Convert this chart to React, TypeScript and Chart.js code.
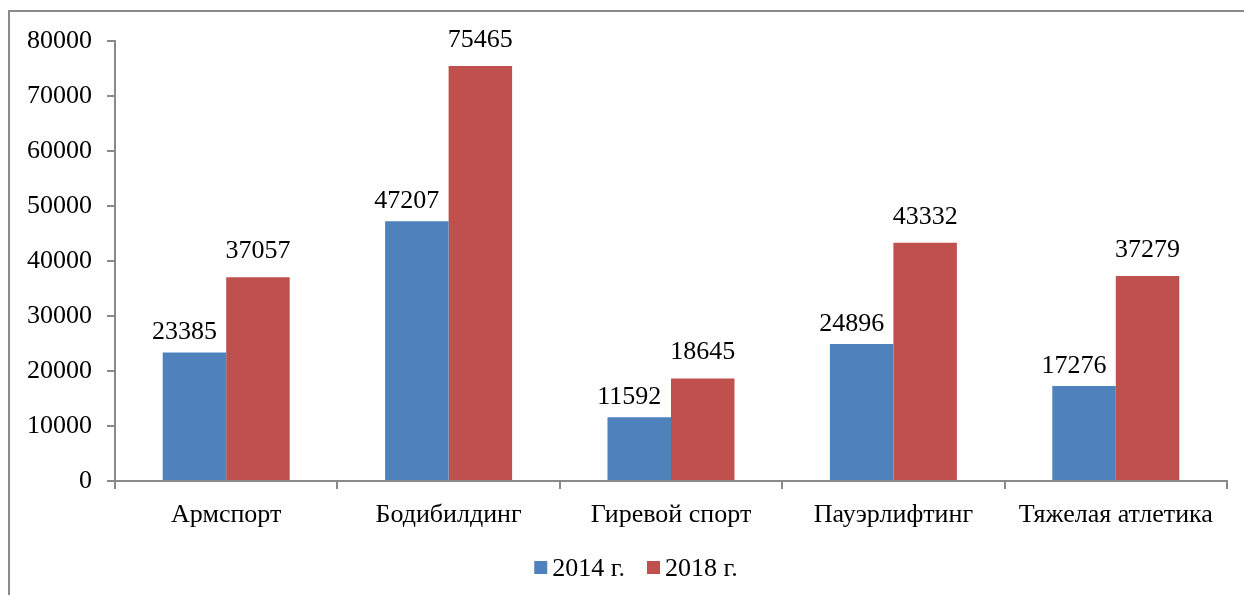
import React, { useEffect, useRef } from "react";
import { Chart, registerables } from "chart.js";

Chart.register(...registerables);

const categories = ["Армспорт", "Бодибилдинг", "Гиревой спорт", "Пауэрлифтинг", "Тяжелая атлетика"];
const series2014 = [23385, 47207, 11592, 24896, 17276];
const series2018 = [37057, 75465, 18645, 43332, 37279];
const seriesLabels = ["2014 г.", "2018 г."];
const seriesColors = ["#4F81BD", "#C0504D"];
const labelOffsets = [{ dx: -10, dy: 13 }, { dx: 0, dy: 19 }];

const FONT = "Liberation Serif, Tinos, DejaVu Serif, Times New Roman, Times, serif";
const AXIS = "#8a8a8a";

const framePlugin = {
  id: "frame",
  beforeDraw(chart: any) {
    const ctx = chart.ctx;
    ctx.save();
    ctx.fillStyle = "#ffffff";
    ctx.fillRect(0, 0, chart.width, chart.height);
    ctx.strokeStyle = AXIS;
    ctx.lineWidth = 2;
    ctx.strokeRect(9, 11, chart.width + 50, chart.height + 50);
    ctx.restore();
  },
};

const valueLabelPlugin = {
  id: "valueLabels",
  afterDatasetsDraw(chart: any) {
    const ctx = chart.ctx;
    ctx.save();
    ctx.font = `26px ${FONT}`;
    ctx.fillStyle = "#000";
    ctx.textAlign = "center";
    ctx.textBaseline = "alphabetic";
    chart.data.datasets.forEach((ds: any, i: number) => {
      const meta = chart.getDatasetMeta(i);
      const off = labelOffsets[i];
      meta.data.forEach((el: any, j: number) => {
        ctx.fillText(String(ds.data[j]), el.x + off.dx, el.y - off.dy);
      });
    });
    ctx.restore();
  },
};

const legendPlugin = {
  id: "customLegend",
  afterDraw(chart: any) {
    const ctx = chart.ctx;
    ctx.save();
    ctx.font = `26px ${FONT}`;
    ctx.textBaseline = "alphabetic";
    ctx.textAlign = "left";
    const box = 13;
    const gapText = 5;
    const gapItem = 22;
    const items = chart.data.datasets.map((ds: any) => ({
      label: ds.label,
      color: ds.backgroundColor,
      w: ctx.measureText(ds.label).width,
    }));
    let total = 0;
    items.forEach((it: any, i: number) => {
      total += box + gapText + it.w + (i < items.length - 1 ? gapItem : 0);
    });
    let x = 636 - total / 2;
    const baseline = 576;
    items.forEach((it: any) => {
      ctx.fillStyle = it.color;
      ctx.fillRect(x, 561, box, box);
      x += box + gapText;
      ctx.fillStyle = "#000";
      ctx.fillText(it.label, x, baseline);
      x += it.w + gapItem;
    });
    ctx.restore();
  },
};

export default function App() {
  const ref = useRef<HTMLCanvasElement | null>(null);

  useEffect(() => {
    document.body.style.margin = "0";
    document.body.style.overflow = "hidden";
    if (!ref.current) return;
    const chart = new Chart(ref.current, {
      type: "bar",
      data: {
        labels: categories,
        datasets: [
          {
            label: seriesLabels[0],
            data: series2014,
            backgroundColor: seriesColors[0],
            borderWidth: 0,
            categoryPercentage: 0.571,
            barPercentage: 1,
          },
          {
            label: seriesLabels[1],
            data: series2018,
            backgroundColor: seriesColors[1],
            borderWidth: 0,
            categoryPercentage: 0.571,
            barPercentage: 1,
          },
        ],
      },
      options: {
        responsive: false,
        animation: false,
        events: [],
        layout: { padding: { top: 41, right: 17, bottom: 0, left: 0 } },
        plugins: {
          legend: { display: false },
          tooltip: { enabled: false },
          title: { display: false },
        },
        scales: {
          x: {
            grid: {
              display: true,
              drawOnChartArea: false,
              drawTicks: true,
              tickLength: 8,
              offset: true,
              color: AXIS,
              lineWidth: 2,
            },
            border: { display: true, color: AXIS, width: 2 },
            ticks: {
              color: "#000",
              font: { family: FONT, size: 26 },
              padding: 11,
              maxRotation: 0,
              autoSkip: false,
            },
            afterFit(scale: any) {
              scale.height = 114;
            },
          },
          y: {
            min: 0,
            max: 80000,
            grid: {
              display: true,
              drawOnChartArea: false,
              drawTicks: true,
              tickLength: 8,
              color: AXIS,
              lineWidth: 2,
            },
            border: { display: true, color: AXIS, width: 2 },
            ticks: {
              stepSize: 10000,
              color: "#000",
              font: { family: FONT, size: 26 },
              padding: 15,
              callback: (v: any) => String(v),
            },
            afterFit(scale: any) {
              scale.width = 115;
            },
          },
        },
      },
      plugins: [framePlugin, valueLabelPlugin, legendPlugin],
    });
    return () => chart.destroy();
  }, []);

  return <canvas ref={ref} width={1244} height={595} style={{ display: "block" }} />;
}
